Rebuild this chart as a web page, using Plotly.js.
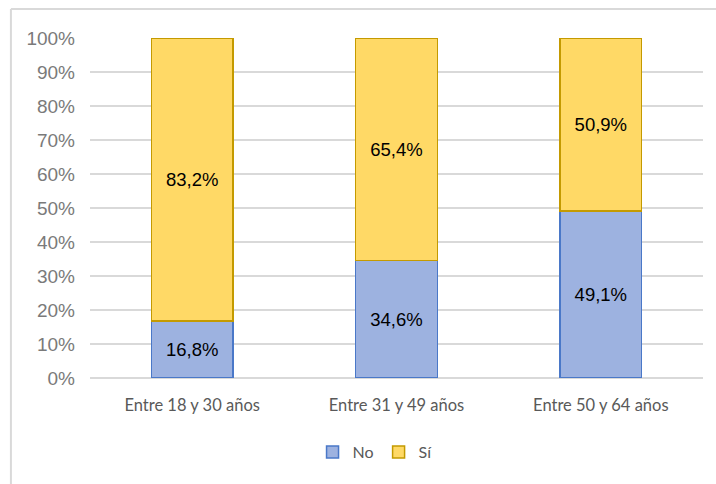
<!DOCTYPE html>
<html>
<head>
<meta charset="utf-8">
<script src="https://cdn.plot.ly/plotly-3.0.1.min.js"></script>
<style>
html,body{margin:0;padding:0;background:#fff;}
#chart{width:716px;height:484px;}
</style>
</head>
<body>
<div id="chart"></div>
<script>
const categories = ["Entre 18 y 30 años", "Entre 31 y 49 años", "Entre 50 y 64 años"];
const noValues = [16.8, 34.6, 49.1];
const siValues = [83.2, 65.4, 50.9];
const yTicks = [0, 10, 20, 30, 40, 50, 60, 70, 80, 90, 100];
const yTickText = yTicks.map(v => v + "%");

const labelFont = {family: "Liberation Sans, Arial, sans-serif", size: 18.5, color: "#000"};

const traces = [
  {
    type: "bar", name: "No", x: categories, y: noValues,
    marker: {color: "#9db2e0", line: {color: "#4a78c8", width: 1.5}},
    text: noValues, texttemplate: "%{y:.1f}%", textposition: "inside",
    insidetextanchor: "middle", textfont: labelFont, hoverinfo: "skip"
  },
  {
    type: "bar", name: "Sí", x: categories, y: siValues,
    marker: {color: "#ffd966", line: {color: "#c49a00", width: 1.5}},
    text: siValues, texttemplate: "%{y:.1f}%", textposition: "inside",
    insidetextanchor: "middle", textfont: labelFont, hoverinfo: "skip"
  }
];

const layout = {
  width: 716, height: 484,
  margin: {l: 90, r: 13, t: 38, b: 106},
  barmode: "stack",
  bargap: 0.6,
  separators: ",.",
  paper_bgcolor: "#fff", plot_bgcolor: "#fff",
  showlegend: true,
  legend: {
    orientation: "h", x: 0.465, xanchor: "center",
    yref: "container", y: 0.066, yanchor: "middle",
    font: {family: "Lato, Open Sans, sans-serif", size: 16, color: "#595959"},
    itemwidth: 30, traceorder: "normal"
  },
  xaxis: {
    automargin: false,
    tickfont: {family: "Lato, Open Sans, sans-serif", size: 16.5, color: "#595959"},
    showgrid: false, zeroline: false, showline: false, ticks: "",
    ticklabelstandoff: 15
  },
  yaxis: {
    automargin: false,
    range: [0, 100], tickmode: "array", tickvals: yTicks, ticktext: yTickText,
    tickfont: {family: "Liberation Sans, Arial, sans-serif", size: 19, color: "#7a7a7a"},
    showgrid: true, gridcolor: "#d9d9d9", gridwidth: 1.5,
    zeroline: true, zerolinecolor: "#d9d9d9", zerolinewidth: 1.5,
    showline: false, ticks: "", ticklabelstandoff: 14, fixedrange: true
  },
  shapes: [
    {type: "line", xref: "paper", yref: "paper", x0: -0.129, x1: 1.1, y0: 1.085, y1: 1.085,
     line: {color: "#d9d9d9", width: 2}, layer: "below"},
    {type: "line", xref: "paper", yref: "paper", x0: -0.129, x1: -0.129, y0: 1.085, y1: -0.35,
     line: {color: "#d9d9d9", width: 2}, layer: "below"}
  ]
};

Plotly.newPlot("chart", traces, layout, {displayModeBar: false, staticPlot: true});
</script>
</body>
</html>
